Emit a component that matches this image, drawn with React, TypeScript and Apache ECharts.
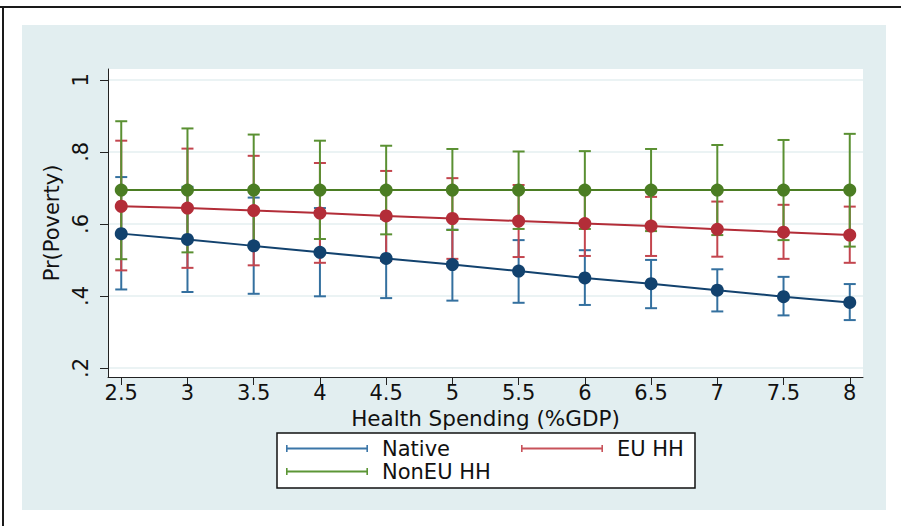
import React, { useEffect, useRef } from 'react';
import * as echarts from 'echarts';

// Health spending (% of GDP) at which predicted poverty probabilities are evaluated
const healthSpending = [2.5, 3, 3.5, 4, 4.5, 5, 5.5, 6, 6.5, 7, 7.5, 8];

// Predicted Pr(Poverty) with 95% confidence bounds, by household group
const nativeMean = [0.573, 0.557, 0.539, 0.521, 0.504, 0.487, 0.469, 0.45, 0.434, 0.416, 0.398, 0.382];
const nativeLow = [0.418, 0.411, 0.406, 0.399, 0.394, 0.387, 0.381, 0.375, 0.366, 0.357, 0.346, 0.333];
const nativeHigh = [0.73, 0.703, 0.673, 0.644, 0.614, 0.584, 0.555, 0.527, 0.5, 0.474, 0.453, 0.433];

const euMean = [0.649, 0.644, 0.637, 0.63, 0.622, 0.615, 0.608, 0.601, 0.594, 0.585, 0.577, 0.569];
const euLow = [0.471, 0.478, 0.485, 0.492, 0.497, 0.503, 0.508, 0.511, 0.511, 0.509, 0.503, 0.492];
const euHigh = [0.831, 0.809, 0.789, 0.769, 0.747, 0.727, 0.708, 0.691, 0.675, 0.662, 0.653, 0.648];

const nonEuMean = [0.694, 0.694, 0.694, 0.694, 0.694, 0.694, 0.694, 0.694, 0.694, 0.694, 0.694, 0.694];
const nonEuLow = [0.502, 0.521, 0.538, 0.558, 0.571, 0.583, 0.586, 0.586, 0.58, 0.569, 0.555, 0.537];
const nonEuHigh = [0.885, 0.865, 0.848, 0.831, 0.817, 0.808, 0.801, 0.802, 0.808, 0.819, 0.833, 0.85];

// Axis ticks
const xTickValues = [2.5, 3, 3.5, 4, 4.5, 5, 5.5, 6, 6.5, 7, 7.5, 8];
const yTickValues = [0.2, 0.4, 0.6, 0.8, 1];

const groupNames = ['Native', 'EU HH', 'NonEU HH'];

const FONT = '"DejaVu Sans", sans-serif';

const COLORS = {
  native: { mark: '#12426e', ci: '#34709f', key: '#3b76a8' },
  eu: { mark: '#b32d38', ci: '#c3454e', key: '#c8525a' },
  nonEu: { mark: '#4b7d23', ci: '#5a9032', key: '#5c9636' },
};

// Horizontal bar with end caps, used as legend key
const KEY_ICON = 'path://M0,0h1.6v7h-1.6z M0,2.6h82v1.8h-82z M80.4,0h1.6v7h-1.6z';

function ciSeries(name: string, low: number[], high: number[], color: string) {
  return {
    type: 'custom',
    name,
    z: 2,
    itemStyle: { color },
    data: healthSpending.map((x, i) => [x, low[i], high[i]]),
    encode: { x: 0, y: [1, 2] },
    renderItem: (_params: any, api: any) => {
      const x = api.value(0);
      const lo = api.coord([x, api.value(1)]);
      const hi = api.coord([x, api.value(2)]);
      const hw = 6;
      const style = { stroke: color, lineWidth: 2, fill: null };
      return {
        type: 'group',
        children: [
          { type: 'line', shape: { x1: lo[0], y1: lo[1], x2: hi[0], y2: hi[1] }, style },
          { type: 'line', shape: { x1: hi[0] - hw, y1: hi[1], x2: hi[0] + hw, y2: hi[1] }, style },
          { type: 'line', shape: { x1: lo[0] - hw, y1: lo[1], x2: lo[0] + hw, y2: lo[1] }, style },
        ],
      };
    },
  };
}

function meanSeries(name: string, mean: number[], color: string) {
  return {
    type: 'line',
    name,
    z: 3,
    data: healthSpending.map((x, i) => [x, mean[i]]),
    symbol: 'circle',
    symbolSize: 13,
    showSymbol: true,
    itemStyle: { color, borderWidth: 0 },
    lineStyle: { color, width: 2 },
  };
}

function legendFor(name: string, color: string, left: number, top: number) {
  return {
    left,
    top,
    orient: 'horizontal',
    padding: 0,
    selectedMode: false,
    itemWidth: 82,
    itemHeight: 7,
    icon: KEY_ICON,
    data: [{ name, itemStyle: { color, borderWidth: 0 } }],
    textStyle: { fontFamily: FONT, fontSize: 21, color: '#111', padding: [0, 0, 0, 9] },
  };
}

export default function App() {
  const ref = useRef<HTMLDivElement>(null);

  useEffect(() => {
    if (!ref.current) return;
    const chart = echarts.init(ref.current, null, { renderer: 'svg' });
    const axisColor = '#222';

    chart.setOption({
      animation: false,
      grid: {
        left: 108,
        right: 38,
        top: 69,
        bottom: 149,
        show: true,
        backgroundColor: '#ffffff',
        borderWidth: 0,
      },
      xAxis: {
        type: 'value',
        min: 2.4,
        max: 8.1,
        name: 'Health Spending (%GDP)',
        nameLocation: 'middle',
        nameGap: 23,
        nameTextStyle: { fontFamily: FONT, fontSize: 21.5, color: '#111' },
        axisLine: { show: true, onZero: false, lineStyle: { color: axisColor, width: 1 } },
        axisTick: { show: true, length: 8, customValues: xTickValues, lineStyle: { color: axisColor } },
        axisLabel: {
          customValues: xTickValues,
          margin: 5,
          fontFamily: FONT,
          fontSize: 21,
          color: '#111',
        },
        splitLine: { show: false },
      },
      yAxis: {
        type: 'value',
        min: 0.175,
        max: 1.03,
        name: 'Pr(Poverty)',
        nameLocation: 'middle',
        nameGap: 32,
        nameTextStyle: { fontFamily: FONT, fontSize: 21, color: '#111' },
        axisLine: { show: true, onZero: false, lineStyle: { color: axisColor, width: 1 } },
        axisTick: { show: true, length: 8, customValues: yTickValues, lineStyle: { color: axisColor } },
        axisLabel: {
          customValues: yTickValues,
          rotate: 90,
          margin: 17,
          fontFamily: FONT,
          fontSize: 21,
          color: '#111',
          formatter: (v: number) => (v >= 1 ? String(v) : String(v).replace(/^0/, '')),
        },
        splitLine: { show: true, lineStyle: { color: '#e4eff1', width: 1.5 } },
      },
      legend: [
        legendFor(groupNames[0], COLORS.native.key, 286, 438),
        legendFor(groupNames[1], COLORS.eu.key, 521, 438),
        legendFor(groupNames[2], COLORS.nonEu.key, 286, 461),
      ],
      graphic: [
        {
          type: 'rect',
          z: -1,
          shape: { x: 277, y: 433, width: 418, height: 55 },
          style: { fill: '#ffffff', stroke: '#111', lineWidth: 1.5 },
        },
      ],
      series: [
        ciSeries(groupNames[0], nativeLow, nativeHigh, COLORS.native.ci),
        ciSeries(groupNames[1], euLow, euHigh, COLORS.eu.ci),
        ciSeries(groupNames[2], nonEuLow, nonEuHigh, COLORS.nonEu.ci),
        meanSeries(groupNames[0], nativeMean, COLORS.native.mark),
        meanSeries(groupNames[1], euMean, COLORS.eu.mark),
        meanSeries(groupNames[2], nonEuMean, COLORS.nonEu.mark),
      ],
    });

    return () => chart.dispose();
  }, []);

  return (
    <div style={{ position: 'fixed', left: 0, top: 0, width: 901, height: 526, background: '#ffffff', overflow: 'hidden' }}>
      {/* outer frame: top and left rules */}
      <div style={{ position: 'absolute', left: 0, top: 5.5, width: 901, height: 2, background: '#1a1a1a' }} />
      <div style={{ position: 'absolute', left: 2, top: 5.5, width: 1.5, height: 521, background: '#1a1a1a' }} />
      {/* graph region background */}
      <div style={{ position: 'absolute', left: 22, top: 25, width: 864, height: 485, background: '#e2eef0' }} />
      <div ref={ref} style={{ position: 'absolute', left: 0, top: 0, width: 901, height: 526 }} />
    </div>
  );
}
